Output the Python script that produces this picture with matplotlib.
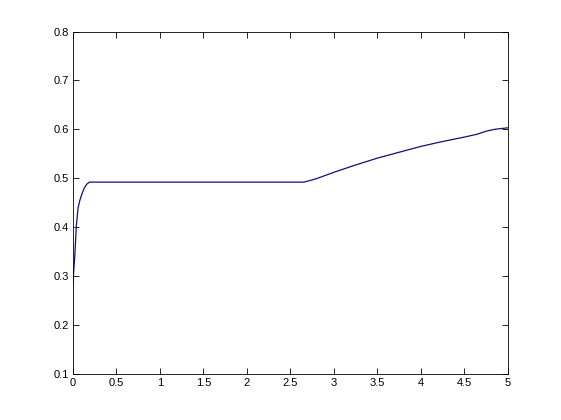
import matplotlib
matplotlib.use("Agg")
import matplotlib.pyplot as plt

# values
x_vals = [0.0, 0.005, 0.02, 0.04, 0.06, 0.08, 0.10, 0.13, 0.16, 0.19,
          2.66, 2.8, 3.0, 3.25, 3.5, 3.75, 4.0, 4.25, 4.5, 4.65,
          4.75, 4.85, 5.0]
y_vals = [0.282, 0.30, 0.337, 0.405, 0.44, 0.455, 0.466, 0.480, 0.488, 0.492,
          0.492, 0.499, 0.512, 0.527, 0.541, 0.553, 0.565, 0.575, 0.584, 0.590,
          0.596, 0.600, 0.603]

x_ticks = [0, 0.5, 1, 1.5, 2, 2.5, 3, 3.5, 4, 4.5, 5]
y_ticks = [0.1, 0.2, 0.3, 0.4, 0.5, 0.6, 0.7, 0.8]

plt.rcParams["font.family"] = ["Liberation Sans", "DejaVu Sans"]

fig = plt.figure(figsize=(5.61, 4.2), dpi=100)
ax = fig.add_axes([0.13, 0.11, 0.775, 0.815])

ax.plot(x_vals, y_vals, color="#10107a", linewidth=0.9)

ax.set_xlim(0, 5)
ax.set_ylim(0.1, 0.8)
ax.set_xticks(x_ticks)
ax.set_xticklabels([f"{t:g}" for t in x_ticks])
ax.set_yticks(y_ticks)
ax.set_yticklabels([f"{t:g}" for t in y_ticks])

ax.tick_params(direction="in", length=4, width=0.6, labelsize=8,
               top=True, right=True, pad=3)
for sp in ax.spines.values():
    sp.set_linewidth(0.6)

fig.savefig("out.png", dpi=100)
